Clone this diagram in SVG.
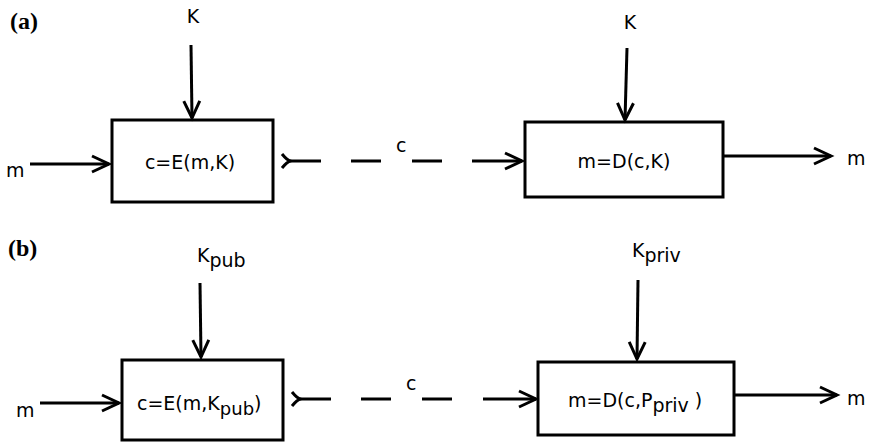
<svg xmlns="http://www.w3.org/2000/svg" width="880" height="444" viewBox="0 0 880 444">
  <defs>
    <style>
      .box { fill: #fff; stroke: #000; stroke-width: 3; }
      .lbl { font-family: "DejaVu Sans", Verdana, sans-serif; font-size: 19px; fill: #000; }
      .panel { font-family: "Liberation Serif", "Times New Roman", serif; font-size: 24px; font-weight: bold; fill: #000; }
      .wire { fill: none; stroke: #000; stroke-width: 3; }
      .arrow { marker-end: url(#head); }
      .dash { marker-start: url(#tail); marker-end: url(#head); }
    </style>
    <!-- open chevron arrowhead -->
    <marker id="head" markerUnits="userSpaceOnUse" viewBox="-20 -11 24 22" refX="0" refY="0" markerWidth="24" markerHeight="22" orient="auto" overflow="visible">
      <path d="M-17,-8 L0,0 L-17,8" fill="none" stroke="#000" stroke-width="3" stroke-linejoin="miter"/>
    </marker>
    <!-- forked tail at the start of the ciphertext line -->
    <marker id="tail" markerUnits="userSpaceOnUse" viewBox="-12 -11 16 22" refX="0" refY="0" markerWidth="16" markerHeight="22" orient="auto" overflow="visible">
      <path d="M-8,-7 Q-3,-1 0,0 Q-3,1 -8,7" fill="none" stroke="#000" stroke-width="3"/>
    </marker>
  </defs>
  <rect width="880" height="444" fill="#fff"/>

  <!-- panel labels -->
  <text class="panel" x="10" y="29">(a)</text>
  <text class="panel" x="8" y="256">(b)</text>

  <!-- (a) symmetric encryption -->
  <g id="enc-a">
    <rect class="box" x="112" y="120" width="161" height="82"/>
    <text class="lbl" x="190" y="169" text-anchor="middle" font-size="19.5">c=E(m,K)</text>
  </g>
  <g id="dec-a">
    <rect class="box" x="525" y="122" width="198" height="75"/>
    <text class="lbl" x="624" y="168" text-anchor="middle">m=D(c,K)</text>
  </g>
  <g id="labels-a">
    <text class="lbl" x="193" y="23" text-anchor="middle" font-size="16">K</text>
    <text class="lbl" x="630" y="29" text-anchor="middle" font-size="18">K</text>
    <text class="lbl" x="6" y="177">m</text>
    <text class="lbl" x="396" y="152" font-size="18">c</text>
    <text class="lbl" x="847" y="165">m</text>
  </g>

  <!-- (b) public-key encryption -->
  <g id="enc-b">
    <rect class="box" x="122" y="360" width="161" height="80"/>
    <text class="lbl" x="137" y="410">c=E(m,K<tspan dy="5" font-size="18">pub</tspan><tspan dy="-5">)</tspan></text>
  </g>
  <g id="dec-b">
    <rect class="box" x="538" y="362" width="196" height="73"/>
    <text class="lbl" x="568" y="407" font-size="18">m=D(c,P<tspan dy="5" font-size="19">priv</tspan><tspan dy="-5"> )</tspan></text>
  </g>
  <g id="labels-b">
    <text class="lbl" x="197" y="262">K<tspan dy="5">pub</tspan></text>
    <text class="lbl" x="632" y="257">K<tspan dy="5">priv</tspan></text>
    <text class="lbl" x="16" y="417">m</text>
    <text class="lbl" x="406" y="390" font-size="18">c</text>
    <text class="lbl" x="847" y="405">m</text>
  </g>

  <!-- connectors -->
  <g id="connectors">
    <!-- (a) -->
    <path class="wire arrow" d="M191,45 L192,118"/>
    <path class="wire arrow" d="M627,48 L625,120"/>
    <path class="wire arrow" d="M30,164 L109,164"/>
    <path class="wire dash" d="M290,161 L522,161" stroke-dasharray="31 30 30 31 30 30 200"/>
    <path class="wire arrow" d="M723,156 L831,156"/>
    <!-- (b) -->
    <path class="wire arrow" d="M200,283 L201,357"/>
    <path class="wire arrow" d="M638,280 L637,359"/>
    <path class="wire arrow" d="M40,403 L119,403"/>
    <path class="wire dash" d="M300,399 L536,399" stroke-dasharray="31 30 30 31 30 31 200"/>
    <path class="wire arrow" d="M734,395 L837,395"/>
  </g>
</svg>
